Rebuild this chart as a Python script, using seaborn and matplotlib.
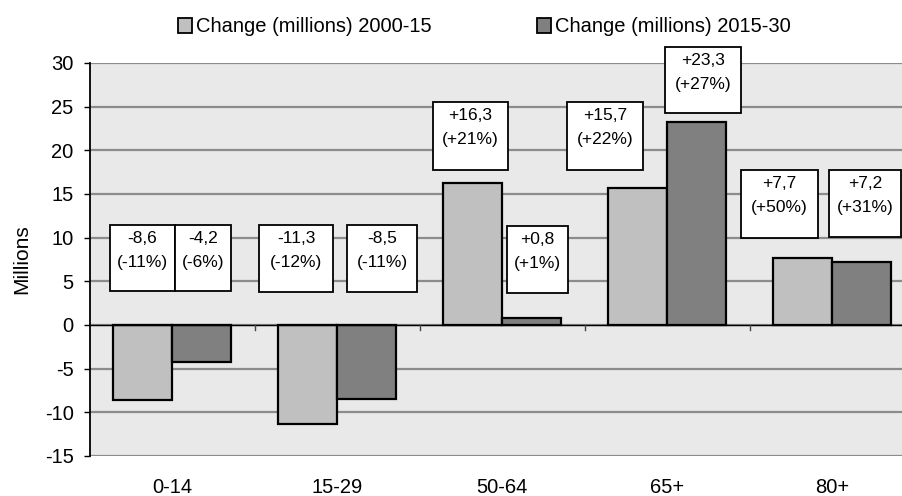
import matplotlib
matplotlib.use("Agg")
import matplotlib.pyplot as plt
from matplotlib.patches import Patch, Rectangle
import numpy as np
import pandas as pd
import seaborn as sns

# ---- data -------------------------------------------------------------
age_groups = ["0-14", "15-29", "50-64", "65+", "80+"]
change_2000_15 = [-8.6, -11.3, 16.3, 15.7, 7.7]
change_2015_30 = [-4.2, -8.5, 0.8, 23.3, 7.2]
pct_2000_15 = [-11, -12, 21, 22, 50]
pct_2015_30 = [-6, -11, 1, 27, 31]
series_names = ["Change (millions) 2000-15", "Change (millions) 2015-30"]
y_ticks = [-15, -10, -5, 0, 5, 10, 15, 20, 25, 30]

# ---- label box layout (left, right, top, bottom) in axis units ---------
boxes_2000_15 = [(-0.376, 0.018, 11.45, 3.89),
                 (0.527, 0.976, 11.45, 3.78),
                 (1.582, 2.036, 25.53, 17.75),
                 (2.394, 2.855, 25.53, 17.75),
                 (3.448, 3.915, 17.75, 9.96)]
boxes_2015_30 = [(0.018, 0.358, 11.45, 3.89),
                 (1.061, 1.485, 11.45, 3.78),
                 (2.030, 2.400, 11.34, 3.66),
                 (2.988, 3.448, 31.83, 24.27),
                 (3.982, 4.418, 17.75, 10.08)]

LIGHT = "#c0c0c0"
DARK = "#808080"
PLOT_BG = "#e9e9e9"
GRID = "#8c8c8c"

plt.rcParams["font.family"] = ["Liberation Sans", "DejaVu Sans"]

df = pd.DataFrame({
    "age": age_groups * 2,
    "series": [series_names[0]] * len(age_groups) + [series_names[1]] * len(age_groups),
    "value": change_2000_15 + change_2015_30,
})

fig = plt.figure(figsize=(9.02, 4.96), dpi=100)
ax = fig.add_axes([89.5 / 902, 1 - 456 / 496, 825 / 902, 393 / 496])
ax.set_facecolor(PLOT_BG)

sns.barplot(data=df, x="age", y="value", hue="series", order=age_groups,
            hue_order=series_names, palette=[LIGHT, DARK], width=0.715,
            edgecolor="black", linewidth=1.6, saturation=1, legend=False,
            errorbar=None, ax=ax, zorder=3)

ax.set_xlim(-0.5, len(age_groups) - 0.5)
ax.set_ylim(-15, 30)
ax.set_yticks(y_ticks)
ax.set_yticklabels([str(t) for t in y_ticks], fontsize=14.5)
ax.yaxis.grid(True, color=GRID, linewidth=1.6, zorder=0)
ax.set_axisbelow(True)

for side in ["top", "right", "bottom"]:
    ax.spines[side].set_visible(False)
ax.spines["left"].set_color("black")
ax.spines["left"].set_linewidth(1.3)
ax.spines["left"].set_zorder(5)

ax.tick_params(axis="y", length=4.5, width=1, color="black", pad=7,
               labelcolor="black")
ax.tick_params(axis="x", length=0, pad=16, labelsize=14.5, labelcolor="black")
ax.set_xlabel("")

# zero line with category separators
ax.axhline(0, color="black", linewidth=1.0, zorder=4)
for b in np.arange(0.5, len(age_groups) - 0.5, 1.0):
    ax.plot([b, b], [0, -0.6], color="#444444", linewidth=1.0, zorder=4)

ax.set_ylabel("Millions", fontsize=15, color="black")
ax.yaxis.set_label_coords(-0.07, 0.5)


def fmt(v):
    return f"{v:+.1f}".replace(".", ",")


def draw_box(box, value, pct):
    left, right, top, bottom = box
    rect = Rectangle((left, bottom), right - left, top - bottom,
                     facecolor="white", edgecolor="black", linewidth=1.3,
                     zorder=6, clip_on=False)
    ax.add_patch(rect)
    xc = (left + right) / 2
    ax.annotate(fmt(value), xy=(xc, top), xytext=(0, -9.5),
                textcoords="offset points", ha="center", va="center",
                fontsize=12.5, zorder=7, annotation_clip=False)
    ax.annotate(f"({pct:+d}%)", xy=(xc, top), xytext=(0, -27),
                textcoords="offset points", ha="center", va="center",
                fontsize=12.5, zorder=7, annotation_clip=False)


for box, v, p in zip(boxes_2000_15, change_2000_15, pct_2000_15):
    draw_box(box, v, p)
for box, v, p in zip(boxes_2015_30, change_2015_30, pct_2015_30):
    draw_box(box, v, p)

handles = [Patch(facecolor=LIGHT, edgecolor="black", linewidth=1.3),
           Patch(facecolor=DARK, edgecolor="black", linewidth=1.3)]
fig.legend(handles, series_names, loc="center",
           bbox_to_anchor=(484.5 / 902, 1 - 27 / 496), ncol=2, frameon=False,
           fontsize=14.5, handlelength=0.7, handleheight=0.7,
           handletextpad=0.2, columnspacing=5.2, borderaxespad=0)

fig.savefig("out.png", dpi=100)
